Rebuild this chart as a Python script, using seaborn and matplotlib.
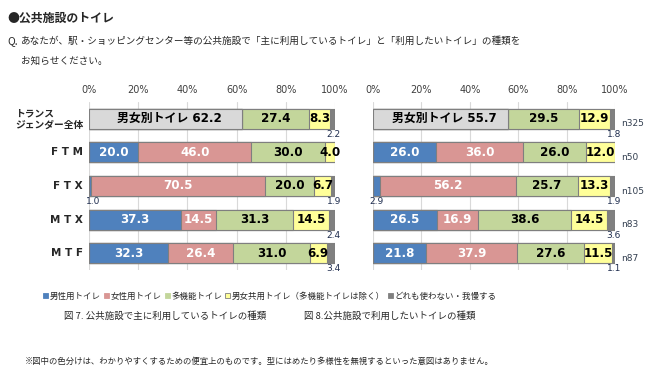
import numpy as np
import pandas as pd
import matplotlib
matplotlib.use("Agg")
import matplotlib.pyplot as plt
from matplotlib.patches import Patch
import seaborn as sns

# data (percent)
groups = ["トランスジェンダー全体", "FTM", "FTX", "MTX", "MTF"]
group_labels = ["トランス\nジェンダー全体", "F T M", "F T X", "M T X", "M T F"]
categories = ["男女別トイレ", "男性用トイレ", "女性用トイレ", "多機能トイレ",
              "男女共用トイレ（多機能トイレは除く）", "どれも使わない・我慢する"]

# fig 7: toilets mainly used
used_separate = [62.2, 0, 0, 0, 0]
used_male = [0, 20.0, 1.0, 37.3, 32.3]
used_female = [0, 46.0, 70.5, 14.5, 26.4]
used_multi = [27.4, 30.0, 20.0, 31.3, 31.0]
used_shared = [8.3, 4.0, 6.7, 14.5, 6.9]
used_none = [2.2, 0, 1.9, 2.4, 3.4]

# fig 8: toilets wanted
want_separate = [55.7, 0, 0, 0, 0]
want_male = [0, 26.0, 2.9, 26.5, 21.8]
want_female = [0, 36.0, 56.2, 16.9, 37.9]
want_multi = [29.5, 26.0, 25.7, 38.6, 27.6]
want_shared = [12.9, 12.0, 13.3, 14.5, 11.5]
want_none = [1.8, 0, 1.9, 3.6, 1.1]

n_counts = [325, 50, 105, 83, 87]

colors = ["#D9D9D9", "#4F81BD", "#D99694", "#C3D69B", "#FFFF99", "#808080"]
text_colors = ["black", "white", "white", "black", "black", None]

sns.set_theme(style="white")
plt.rcParams["font.family"] = ["Noto Sans CJK JP", "DejaVu Sans"]
num_font = ["DejaVu Sans", "Noto Sans CJK JP"]

W, H = 662, 383
fig = plt.figure(figsize=(W / 100, H / 100), dpi=100)


def fx(px):
    return px / W


def fy(py):
    return 1 - py / H


def draw_panel(ax, series, show_ylabels):
    vals = np.array(series, dtype=float).T  # rows x categories
    cum = np.cumsum(vals, axis=1)
    # draw cumulative bars from the right-most segment down so they stack
    for k in reversed(range(len(categories))):
        df = pd.DataFrame({"group": groups, "value": cum[:, k]})
        sns.barplot(data=df, x="value", y="group", orient="h", ax=ax,
                    color=colors[k], saturation=1, width=0.6,
                    edgecolor="#7F7F7F", linewidth=0.8, zorder=2)
    ax.set_xlim(0, 100)
    ax.set_ylim(4.5, -0.5)
    ax.set_xlabel("")
    ax.set_ylabel("")
    ax.xaxis.tick_top()
    ax.set_xticks(range(0, 101, 20))
    ax.set_xticklabels([f"{v}%" for v in range(0, 101, 20)],
                       fontsize=7, family=num_font, color="#404040")
    ax.tick_params(axis="x", length=0, pad=5)
    ax.tick_params(axis="y", length=0, pad=5)
    ax.grid(axis="x", color="#D9D9D9", linewidth=0.8, zorder=0)
    ax.set_axisbelow(True)
    for s in ax.spines.values():
        s.set_visible(False)
    ax.set_yticks([])
    if show_ylabels:
        for i, lab in enumerate(group_labels):
            if i == 0:
                ax.text(-2.4, i, lab, ha="right", va="center", fontsize=7,
                        fontweight="bold", multialignment="left",
                        linespacing=1.15, clip_on=False)
            else:
                ax.text(-2.4, i, lab, ha="right", va="center", fontsize=7.5,
                        fontweight="bold", family=num_font, clip_on=False)

    for i in range(len(groups)):
        for k in range(len(categories)):
            v = vals[i, k]
            if v <= 0:
                continue
            left = cum[i, k] - v
            if k == len(categories) - 1:
                ax.text(99.5, i + 0.47, f"{v:.1f}", ha="center", va="center",
                        fontsize=6.5, family=num_font, color="#1F2D4F")
            elif v < 4:
                ax.text(1.5, i + 0.47, f"{v:.1f}", ha="center", va="center",
                        fontsize=6.5, family=num_font, color="#1F2D4F")
            else:
                label = f"{v:.1f}"
                if k == 0:
                    label = f"{categories[0]} {v:.1f}"
                ax.text(left + v / 2 + (1.5 if k == 0 else 0), i, label,
                        ha="center", va="center",
                        fontsize=8.6, fontweight="bold", family=num_font,
                        color=text_colors[k], zorder=5)


# axes geometry
ax_top, ax_bot = 102, 270
ax1 = fig.add_axes([fx(89), fy(ax_bot), fx(335 - 89), (ax_bot - ax_top) / H])
ax2 = fig.add_axes([fx(373), fy(ax_bot), fx(615 - 373), (ax_bot - ax_top) / H])

draw_panel(ax1, [used_separate, used_male, used_female, used_multi,
                 used_shared, used_none], True)
draw_panel(ax2, [want_separate, want_male, want_female, want_multi,
                 want_shared, want_none], False)

for i, n in enumerate(n_counts):
    ax2.text(102.5, i + 0.15, f"n{n}", ha="left", va="center",
             fontsize=6.5, family=num_font, color="#333F50", clip_on=False)

# heading and question
fig.text(fx(7), fy(18), "●公共施設のトイレ", fontsize=8.6, fontweight="bold",
         va="center", ha="left")
fig.text(fx(7), fy(41), "Q.", fontsize=7.5, va="center", ha="left")
fig.text(fx(21), fy(41),
         "あなたが、駅・ショッピングセンター等の公共施設で「主に利用しているトイレ」と「利用したいトイレ」の種類を",
         fontsize=6.9, va="center", ha="left")
fig.text(fx(21), fy(61), "お知らせください。", fontsize=6.9, va="center", ha="left")

# legend
handles = [Patch(facecolor=c, edgecolor=("#7F7F7F" if i == 4 else c), linewidth=0.6)
           for i, c in enumerate(colors[1:], start=1)]
fig.legend(handles, categories[1:], loc="center",
           bbox_to_anchor=(fx(270), fy(296)), ncol=5, frameon=False,
           fontsize=6.1, handlelength=0.6, handleheight=0.6,
           handletextpad=0.2, columnspacing=0.35, borderpad=0)

fig.text(fx(165), fy(316), "図 7. 公共施設で主に利用しているトイレの種類",
         fontsize=6.8, ha="center", va="center")
fig.text(fx(390), fy(316), "図 8.公共施設で利用したいトイレの種類",
         fontsize=6.8, ha="center", va="center")
fig.text(fx(25), fy(361),
         "※図中の色分けは、わかりやすくするための便宜上のものです。型にはめたり多様性を無視するといった意図はありません。",
         fontsize=6.0, ha="left", va="center")

fig.savefig("out.png", dpi=100)
